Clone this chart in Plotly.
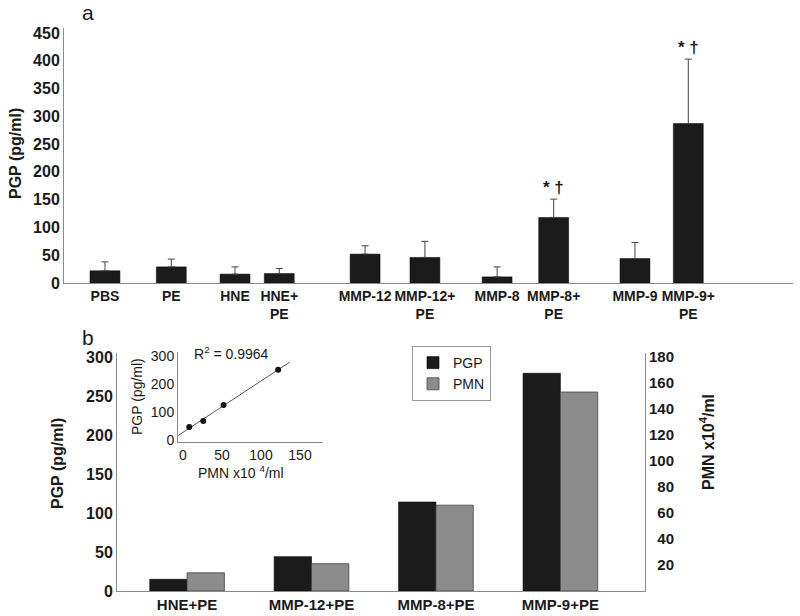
import numpy as np
import plotly.graph_objects as go

# ---------------- data ----------------
# panel a
top_labels = ["PBS", "PE", "HNE", "HNE+<br>PE", "MMP-12", "MMP-12+<br>PE",
              "MMP-8", "MMP-8+<br>PE", "MMP-9", "MMP-9+<br>PE"]
top_pos = [1, 2.02, 3.0, 3.68, 5.0, 5.92, 7.03, 7.9, 9.15, 9.97]
top_mean = [22, 29, 16, 17, 52, 46, 11, 118, 44, 287]
top_err_top = [38, 43, 29, 26, 67, 75, 29, 151, 73, 403]
top_sig = ["", "", "", "", "", "", "", "* †", "", "* †"]
top_ticks = [0, 50, 100, 150, 200, 250, 300, 350, 400, 450]

# panel b
b_cats = ["HNE+PE", "MMP-12+PE", "MMP-8+PE", "MMP-9+PE"]
b_pgp = [15, 44, 114, 279]
b_pmn = [14, 21, 66, 153]
b_left_ticks = [0, 50, 100, 150, 200, 250, 300]
b_right_ticks = [20, 40, 60, 80, 100, 120, 140, 160, 180]

# inset
inset_pmn = [8, 26, 52, 122]
inset_pgp = [48, 70, 127, 252]
trend_x_extent = [-6, 137]
inset_r2_text = "R<sup>2</sup> = 0.9964"

# ---------------- style ----------------
W, H = 800, 616
FONT = "Liberation Sans, Arial, sans-serif"
AXC = "#8a8a8a"
TXT = "#1a1a1a"
BLACK = "#1b1b1b"
GREY = "#8c8c8c"


def px(x):
    return x / W


def py(y):
    return 1 - y / H


fig = go.Figure()

# panel a bars
err_plus = [t - m for t, m in zip(top_err_top, top_mean)]
fig.add_trace(go.Bar(
    x=top_pos, y=top_mean, width=0.46,
    marker=dict(color=BLACK, line=dict(color="#000", width=0.5)),
    error_y=dict(type="data", symmetric=False, array=err_plus,
                 arrayminus=[0] * len(top_mean), color="#444",
                 thickness=1, width=3.5),
    xaxis="x", yaxis="y", showlegend=False, hoverinfo="skip"))

# panel b bars
fig.add_trace(go.Bar(
    x=b_cats, y=b_pgp, name="PGP", width=0.3, offset=-0.3,
    marker=dict(color=BLACK, line=dict(color="#000", width=0.6)),
    xaxis="x2", yaxis="y2", hoverinfo="skip"))
fig.add_trace(go.Bar(
    x=b_cats, y=b_pmn, name="PMN", width=0.3, offset=0,
    marker=dict(color=GREY, line=dict(color="#444", width=0.8)),
    xaxis="x2", yaxis="y3", hoverinfo="skip"))

# inset
slope, intercept = np.polyfit(inset_pmn, inset_pgp, 1)
tx = np.array(trend_x_extent, dtype=float)
fig.add_trace(go.Scatter(
    x=tx, y=slope * tx + intercept, mode="lines",
    line=dict(color="#555", width=1), xaxis="x3", yaxis="y4",
    showlegend=False, hoverinfo="skip"))
fig.add_trace(go.Scatter(
    x=inset_pmn, y=inset_pgp, mode="markers",
    marker=dict(color="#111", size=6, symbol="circle"),
    xaxis="x3", yaxis="y4", showlegend=False, hoverinfo="skip"))

bold = lambda s: dict(family=FONT, size=s, color=TXT, weight="bold")
reg = lambda s: dict(family=FONT, size=s, color=TXT)

common = dict(showline=True, linecolor=AXC, linewidth=1, ticks="",
              showgrid=False, zeroline=False, automargin=False)

# right-axis labels right-aligned by padding two-digit values with a figure space
right_text = [("\u2007" if v < 100 else "") + str(v) for v in b_right_ticks]

fig.update_layout(
    width=W, height=H,
    margin=dict(l=0, r=0, t=0, b=0, autoexpand=False),
    paper_bgcolor="white", plot_bgcolor="rgba(0,0,0,0)",
    font=reg(14),
    xaxis=dict(domain=[px(64), px(793)], range=[0.37, 11.58],
               tickvals=top_pos, ticktext=top_labels, tickfont=bold(14),
               anchor="y", **common),
    yaxis=dict(domain=[py(283), py(28)], range=[0, 459],
               tickvals=top_ticks, tickfont=bold(16), anchor="x", **common),
    xaxis2=dict(domain=[px(117), px(645)], type="category",
                range=[-0.563, 3.68], tickfont=bold(15), anchor="y2",
                **common),
    yaxis2=dict(domain=[py(591), py(353)], range=[0, 305],
                tickvals=b_left_ticks, tickfont=bold(16), anchor="x2",
                **common),
    yaxis3=dict(overlaying="y2", side="right", range=[0, 183],
                tickvals=b_right_ticks, ticktext=right_text,
                tickfont=bold(15), anchor="x2", **common),
    xaxis3=dict(domain=[px(178), px(323)], range=[-6.4, 179.5],
                tickvals=[0, 50, 100, 150], tickfont=reg(14), anchor="y4",
                **common),
    yaxis4=dict(domain=[py(442), py(352)], range=[-5, 315],
                tickvals=[0, 100, 200, 300], tickfont=reg(14), anchor="x3",
                **common),
    legend=dict(x=px(412), y=py(346), xanchor="left", yanchor="top",
                bordercolor="#999", borderwidth=1, bgcolor="white",
                font=reg(14), traceorder="normal"),
    bargap=0.4,
)

annotations = [
    dict(text="a", x=px(88), y=py(13), font=reg(21)),
    dict(text="b", x=px(88), y=py(337), font=reg(21)),
    dict(text="PGP (pg/ml)", x=px(15), y=py(154), textangle=-90, font=bold(16)),
    dict(text="PGP (pg/ml)", x=px(57), y=py(463), textangle=-90, font=bold(16)),
    dict(text="PMN x10<sup>4</sup>/ml", x=px(707), y=py(442), textangle=-90,
         font=bold(16)),
    dict(text="PGP (pg/ml)", x=px(137), y=py(397), textangle=-90, font=reg(14)),
    dict(text="PMN x10 <sup>4</sup>/ml", x=px(241), y=py(472), font=reg(14)),
    dict(text=inset_r2_text, x=px(232), y=py(353), font=reg(14)),
]
for a in annotations:
    a.update(xref="paper", yref="paper", showarrow=False,
             xanchor="center", yanchor="middle")
for xp, et, s in zip(top_pos, top_err_top, top_sig):
    if s:
        annotations.append(dict(text=s, x=xp, y=et, xref="x", yref="y",
                                showarrow=False, xanchor="center",
                                yanchor="bottom", font=bold(17)))
fig.update_layout(annotations=annotations)

fig.write_html(
    "out.html",
    config={"displayModeBar": False},
    post_script="document.body.style.margin='0';"
                "document.body.style.overflow='hidden';",
)
